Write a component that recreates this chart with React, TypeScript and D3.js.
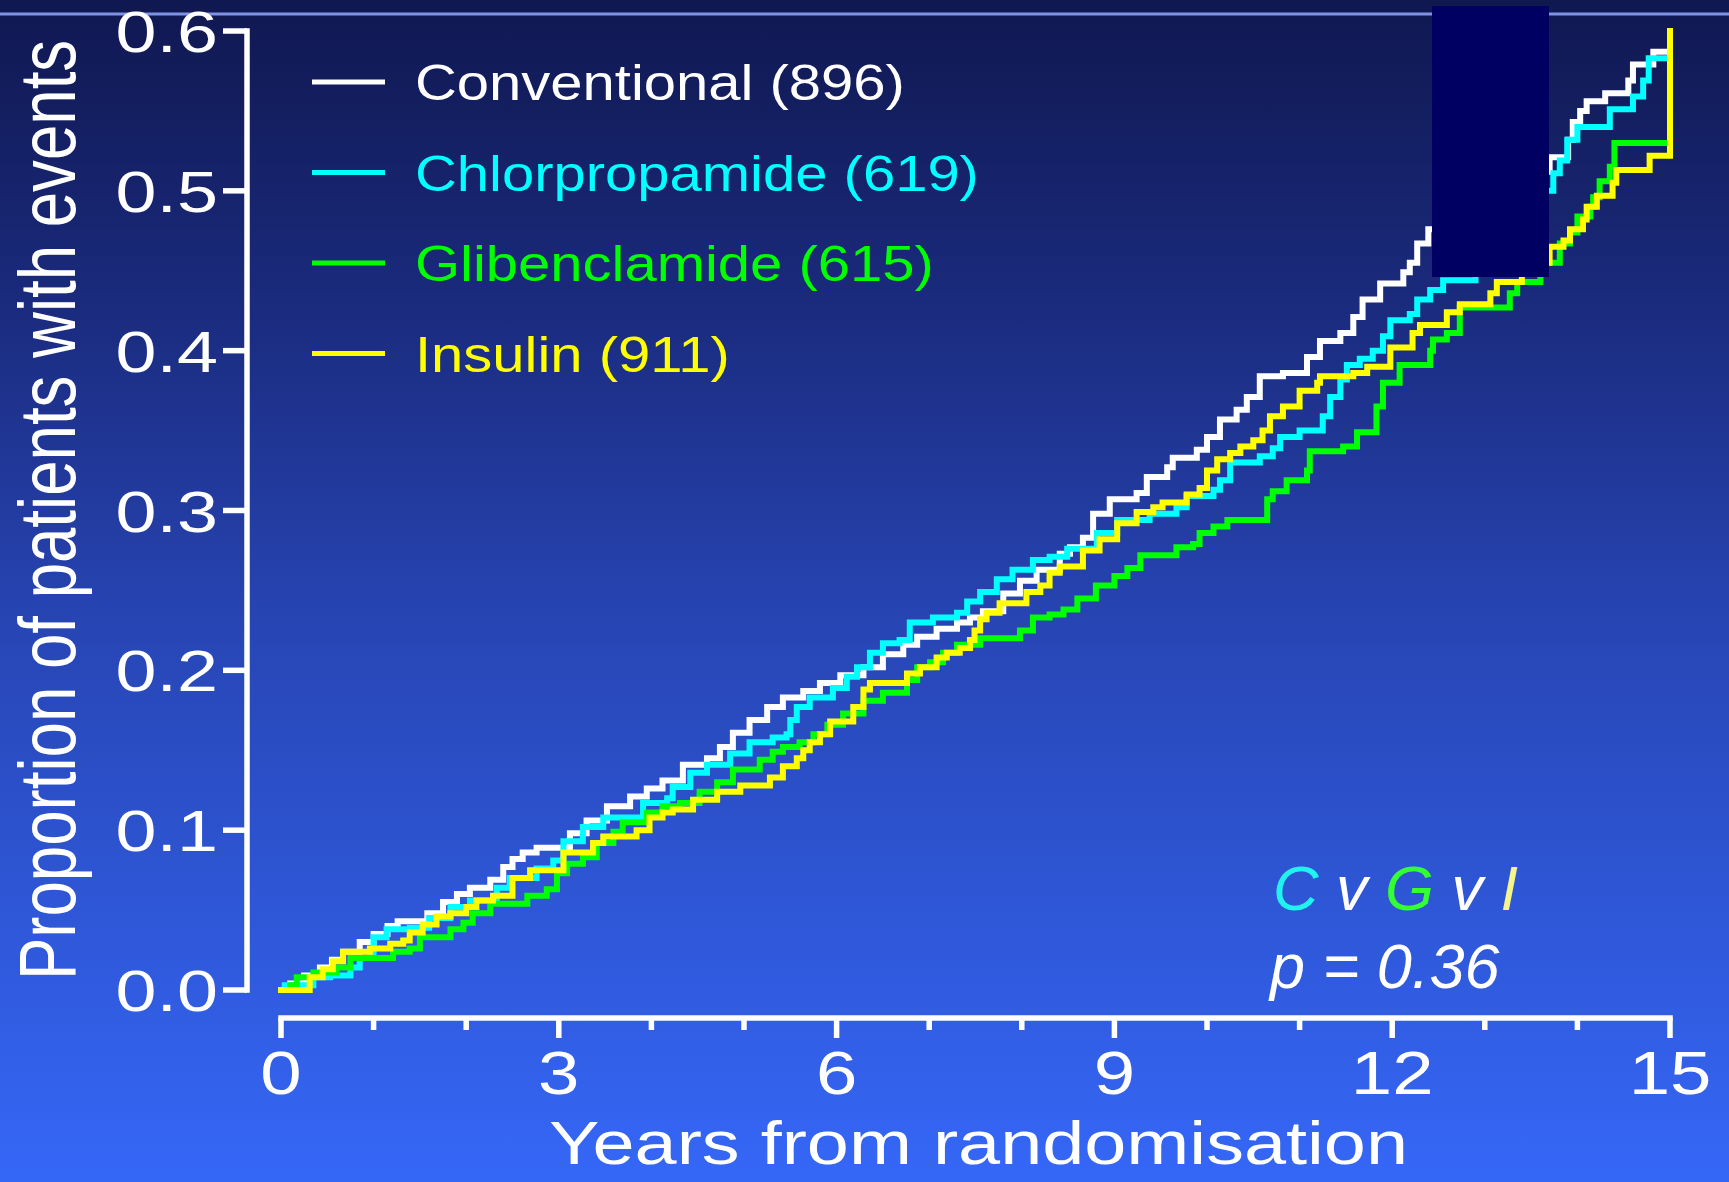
import React, { useEffect } from 'react';
import * as d3 from 'd3';

// ---------- DATA ----------
const seriesNames = ['Conventional', 'Chlorpropamide', 'Glibenclamide', 'Insulin'];
const seriesCounts = [896, 619, 615, 911];

const conventional: [number, number][] = [
  [0, 0], [0.1, 0.004], [0.25, 0.009], [0.42, 0.014], [0.55, 0.019], [0.67, 0.024], [0.85, 0.03], [1.0, 0.035],
  [1.15, 0.04], [1.26, 0.043], [1.58, 0.048], [1.75, 0.055], [1.9, 0.06], [2.04, 0.064], [2.26, 0.069], [2.4, 0.077],
  [2.5, 0.082], [2.61, 0.086], [2.76, 0.089], [3.12, 0.098], [3.3, 0.106], [3.52, 0.115], [3.77, 0.121], [3.95, 0.126],
  [4.12, 0.131], [4.34, 0.141], [4.6, 0.145], [4.74, 0.152], [4.88, 0.161], [5.06, 0.169], [5.25, 0.177], [5.42, 0.183],
  [5.64, 0.187], [5.82, 0.192], [6.04, 0.197], [6.29, 0.202], [6.5, 0.21], [6.72, 0.216], [6.87, 0.221], [7.08, 0.226],
  [7.3, 0.23], [7.44, 0.233], [7.58, 0.237], [7.8, 0.248], [7.98, 0.256], [8.16, 0.263], [8.41, 0.273], [8.52, 0.277],
  [8.66, 0.283], [8.77, 0.298], [8.95, 0.307], [9.24, 0.311], [9.35, 0.321], [9.57, 0.327], [9.63, 0.333], [9.89, 0.338],
  [10.0, 0.346], [10.14, 0.357], [10.32, 0.363], [10.43, 0.371], [10.57, 0.384], [10.82, 0.386], [11.08, 0.396],
  [11.22, 0.406], [11.44, 0.411], [11.58, 0.421], [11.68, 0.432], [11.87, 0.442], [12.12, 0.449], [12.19, 0.455],
  [12.27, 0.467], [12.39, 0.476], [12.7, 0.49], [13.0, 0.503], [13.3, 0.512], [13.7, 0.521], [13.9, 0.532],
  [13.95, 0.543], [14.03, 0.55], [14.1, 0.556], [14.3, 0.561], [14.55, 0.569], [14.6, 0.579], [14.82, 0.587], [15, 0.587],
];

const chlorpropamide: [number, number][] = [
  [0, 0], [0.04, 0.003], [0.35, 0.008], [0.53, 0.009], [0.75, 0.014], [0.85, 0.02], [0.96, 0.023], [1.0, 0.033],
  [1.14, 0.038], [1.39, 0.039], [1.6, 0.045], [1.83, 0.052], [2.04, 0.056], [2.33, 0.064], [2.47, 0.07], [2.76, 0.076],
  [2.94, 0.081], [3.05, 0.093], [3.26, 0.102], [3.48, 0.108], [3.91, 0.117], [4.17, 0.12], [4.23, 0.127], [4.42, 0.136],
  [4.6, 0.141], [4.85, 0.148], [5.06, 0.155], [5.31, 0.158], [5.46, 0.16], [5.5, 0.169], [5.57, 0.177], [5.71, 0.183],
  [5.96, 0.189], [6.11, 0.196], [6.22, 0.202], [6.36, 0.211], [6.5, 0.217], [6.68, 0.219], [6.79, 0.23], [7.04, 0.233],
  [7.3, 0.236], [7.41, 0.243], [7.55, 0.249], [7.73, 0.257], [7.9, 0.263], [8.12, 0.269], [8.3, 0.271], [8.49, 0.276],
  [8.81, 0.286], [9.03, 0.294], [9.38, 0.298], [9.67, 0.302], [9.78, 0.309], [10.07, 0.313], [10.14, 0.319],
  [10.25, 0.33], [10.57, 0.334], [10.71, 0.339], [10.79, 0.346], [11.0, 0.35], [11.25, 0.359], [11.33, 0.371],
  [11.44, 0.382], [11.51, 0.391], [11.65, 0.395], [11.79, 0.4], [11.9, 0.409], [11.98, 0.419], [12.19, 0.423],
  [12.27, 0.432], [12.41, 0.438], [12.55, 0.444], [12.9, 0.46], [13.2, 0.48], [13.5, 0.5], [13.74, 0.511],
  [13.81, 0.519], [13.89, 0.532], [14.0, 0.54], [14.35, 0.551], [14.6, 0.559], [14.71, 0.569], [14.77, 0.583], [15, 0.583],
];

const glibenclamide: [number, number][] = [
  [0, 0], [0.1, 0.003], [0.17, 0.008], [0.35, 0.011], [0.6, 0.014], [0.75, 0.02], [1.21, 0.024], [1.39, 0.026],
  [1.5, 0.033], [1.83, 0.038], [1.97, 0.042], [2.07, 0.048], [2.26, 0.054], [2.66, 0.059], [2.87, 0.063], [2.98, 0.073],
  [3.09, 0.079], [3.26, 0.083], [3.41, 0.092], [3.59, 0.099], [3.69, 0.105], [3.95, 0.111], [4.12, 0.115], [4.31, 0.117],
  [4.52, 0.124], [4.71, 0.13], [4.88, 0.138], [5.17, 0.144], [5.31, 0.149], [5.42, 0.152], [5.6, 0.155], [5.75, 0.16],
  [5.9, 0.166], [6.07, 0.173], [6.29, 0.181], [6.5, 0.186], [6.76, 0.194], [6.87, 0.202], [7.01, 0.205], [7.15, 0.211],
  [7.3, 0.216], [7.55, 0.22], [7.98, 0.225], [8.12, 0.233], [8.3, 0.235], [8.45, 0.238], [8.6, 0.245], [8.8, 0.253],
  [9.0, 0.259], [9.14, 0.264], [9.28, 0.272], [9.67, 0.277], [9.85, 0.279], [9.92, 0.286], [10.07, 0.29], [10.22, 0.294],
  [10.65, 0.307], [10.71, 0.312], [10.86, 0.319], [11.08, 0.325], [11.11, 0.337], [11.47, 0.34], [11.62, 0.349],
  [11.83, 0.365], [11.9, 0.38], [12.08, 0.391], [12.41, 0.4], [12.44, 0.407], [12.59, 0.411], [12.73, 0.427],
  [13.27, 0.436], [13.35, 0.443], [13.6, 0.455], [13.81, 0.467], [13.92, 0.474], [14.0, 0.484], [14.14, 0.49],
  [14.17, 0.496], [14.24, 0.506], [14.35, 0.515], [14.4, 0.53], [15, 0.53],
];

const insulin: [number, number][] = [
  [0, 0], [0.31, 0.008], [0.45, 0.013], [0.56, 0.018], [0.67, 0.024], [0.96, 0.026], [1.18, 0.029], [1.32, 0.031],
  [1.39, 0.036], [1.53, 0.041], [1.68, 0.046], [1.83, 0.048], [2.0, 0.052], [2.11, 0.056], [2.29, 0.059], [2.5, 0.07],
  [2.69, 0.075], [3.05, 0.086], [3.37, 0.092], [3.48, 0.096], [3.84, 0.1], [3.98, 0.108], [4.12, 0.111], [4.23, 0.113],
  [4.45, 0.119], [4.71, 0.124], [4.96, 0.128], [5.28, 0.133], [5.42, 0.14], [5.57, 0.145], [5.64, 0.15], [5.71, 0.155],
  [5.82, 0.16], [5.93, 0.168], [6.18, 0.177], [6.29, 0.188], [6.36, 0.192], [6.76, 0.198], [6.9, 0.202], [7.08, 0.208],
  [7.19, 0.211], [7.33, 0.214], [7.44, 0.219], [7.49, 0.225], [7.55, 0.232], [7.62, 0.236], [7.76, 0.242], [8.05, 0.249],
  [8.2, 0.253], [8.3, 0.261], [8.41, 0.265], [8.66, 0.275], [8.84, 0.282], [9.03, 0.292], [9.24, 0.299], [9.42, 0.302],
  [9.52, 0.305], [9.78, 0.31], [9.92, 0.314], [10.0, 0.325], [10.11, 0.332], [10.25, 0.336], [10.36, 0.34], [10.5, 0.344],
  [10.6, 0.35], [10.68, 0.359], [10.82, 0.365], [11.0, 0.375], [11.19, 0.38], [11.22, 0.384], [11.58, 0.386],
  [11.73, 0.39], [11.98, 0.402], [12.22, 0.411], [12.3, 0.416], [12.59, 0.424], [12.73, 0.429], [13.06, 0.436],
  [13.13, 0.443], [13.4, 0.455], [13.7, 0.465], [13.85, 0.469], [13.92, 0.476], [14.06, 0.482], [14.1, 0.49],
  [14.21, 0.497], [14.38, 0.505], [14.42, 0.513], [14.78, 0.522], [15, 0.6],
];

const seriesData = [conventional, chlorpropamide, glibenclamide, insulin];

const yTickValues = [0, 0.1, 0.2, 0.3, 0.4, 0.5, 0.6];
const xMinorTicks = [0, 1, 2, 3, 4, 5, 6, 7, 8, 9, 10, 11, 12, 13, 14, 15];
const xLabelTicks = [0, 3, 6, 9, 12, 15];

const xAxisTitle = 'Years from randomisation';
const yAxisTitle = 'Proportion of patients with events';
const pValueText = 'p = 0.36';

// ---------- STYLE ----------
const COLORS = ['#ffffff', '#00ffff', '#00ff00', '#ffff00'];
const FONT = '"Liberation Sans", Arial, Helvetica, sans-serif';
const W = 1729;
const H = 1182;

export default function App() {
  useEffect(() => {
    document.body.style.margin = '0';
    document.body.style.overflow = 'hidden';
  }, []);

  const x = d3.scaleLinear().domain([0, 15]).range([281, 1670]);
  const y = d3.scaleLinear().domain([0, 0.6]).range([990, 31]);
  const line = d3
    .line<[number, number]>()
    .x((d) => x(d[0]))
    .y((d) => y(d[1]))
    .curve(d3.curveStepAfter);

  const axisW = 5.5;
  const yAxisX = 247;
  const xAxisY = 1018;

  return (
    <svg
      width={W}
      height={H}
      viewBox={`0 0 ${W} ${H}`}
      style={{ position: 'absolute', left: 0, top: 0, display: 'block' }}
      fontFamily={FONT}
    >
      <defs>
        <linearGradient id="bg" x1="0" y1="0" x2="0" y2="1">
          <stop offset="0" stopColor="#101850" />
          <stop offset="0.25" stopColor="#1a2a7c" />
          <stop offset="0.55" stopColor="#2847b8" />
          <stop offset="1" stopColor="#3567f7" />
        </linearGradient>
      </defs>
      <rect x={0} y={0} width={W} height={H} fill="url(#bg)" />
      <rect x={0} y={12.5} width={W} height={3} fill="#7f93e6" />

      {/* Y axis */}
      <line x1={yAxisX} x2={yAxisX} y1={y(0.6) - axisW / 2} y2={y(0) + axisW / 2} stroke="#fff" strokeWidth={axisW} />
      {yTickValues.map((v) => (
        <g key={`yt${v}`}>
          <line x1={223} x2={yAxisX} y1={y(v)} y2={y(v)} stroke="#fff" strokeWidth={axisW} />
          <g transform={`translate(218,${y(v) + 21}) scale(1.27,1)`}>
            <text textAnchor="end" fill="#fff" fontSize={58}>
              {d3.format('.1f')(v)}
            </text>
          </g>
        </g>
      ))}

      {/* X axis */}
      <line x1={x(0) - axisW / 2} x2={x(15) + axisW / 2} y1={xAxisY} y2={xAxisY} stroke="#fff" strokeWidth={axisW} />
      {xMinorTicks.map((t) => (
        <line
          key={`xt${t}`}
          x1={x(t)}
          x2={x(t)}
          y1={xAxisY}
          y2={xLabelTicks.includes(t) ? 1038 : 1030}
          stroke="#fff"
          strokeWidth={axisW}
        />
      ))}
      {xLabelTicks.map((t) => (
        <g key={`xl${t}`} transform={`translate(${x(t)},1094) scale(1.22,1)`}>
          <text textAnchor="middle" fill="#fff" fontSize={61}>
            {t}
          </text>
        </g>
      ))}

      {/* Axis titles */}
      <g transform={`translate(${(x(0) + x(15)) / 2 + 3},1164) scale(1.24,1)`}>
        <text textAnchor="middle" fill="#fff" fontSize={61}>
          {xAxisTitle}
        </text>
      </g>
      <g transform="translate(75,510) rotate(-90) scale(0.795,1)">
        <text textAnchor="middle" fill="#fff" fontSize={80}>
          {yAxisTitle}
        </text>
      </g>

      {/* Curves */}
      {seriesData.map((data, i) => (
        <path
          key={`s${i}`}
          d={line(data) || ''}
          fill="none"
          stroke={COLORS[i]}
          strokeWidth={6}
          strokeLinejoin="miter"
          strokeLinecap="square"
        />
      ))}

      {/* Legend */}
      {seriesNames.map((name, i) => {
        const ly = 82 + i * 90.5;
        return (
          <g key={`lg${i}`}>
            <line x1={312} x2={385} y1={ly} y2={ly} stroke={COLORS[i]} strokeWidth={5} />
            <g transform={`translate(415,${ly + 18}) scale(1.16,1)`}>
              <text fill={COLORS[i]} fontSize={50}>
                {`${name} (${seriesCounts[i]})`}
              </text>
            </g>
          </g>
        );
      })}

      {/* Annotation */}
      <text x={1273} y={910} fontSize={63} fontStyle="italic" fill="#fff" xmlSpace="preserve">
        <tspan fill="#22f2ee">C</tspan>
        <tspan fill="#ffffff"> v </tspan>
        <tspan fill="#33ff33">G</tspan>
        <tspan fill="#ffffff"> v </tspan>
        <tspan fill="#f5f58a">I</tspan>
      </text>
      <text x={1270} y={988} fontSize={63} fontStyle="italic" fill="#fff">
        {pValueText}
      </text>

      {/* Dark block */}
      <rect x={1432} y={6} width={117} height={271} fill="#000062" />
    </svg>
  );
}
